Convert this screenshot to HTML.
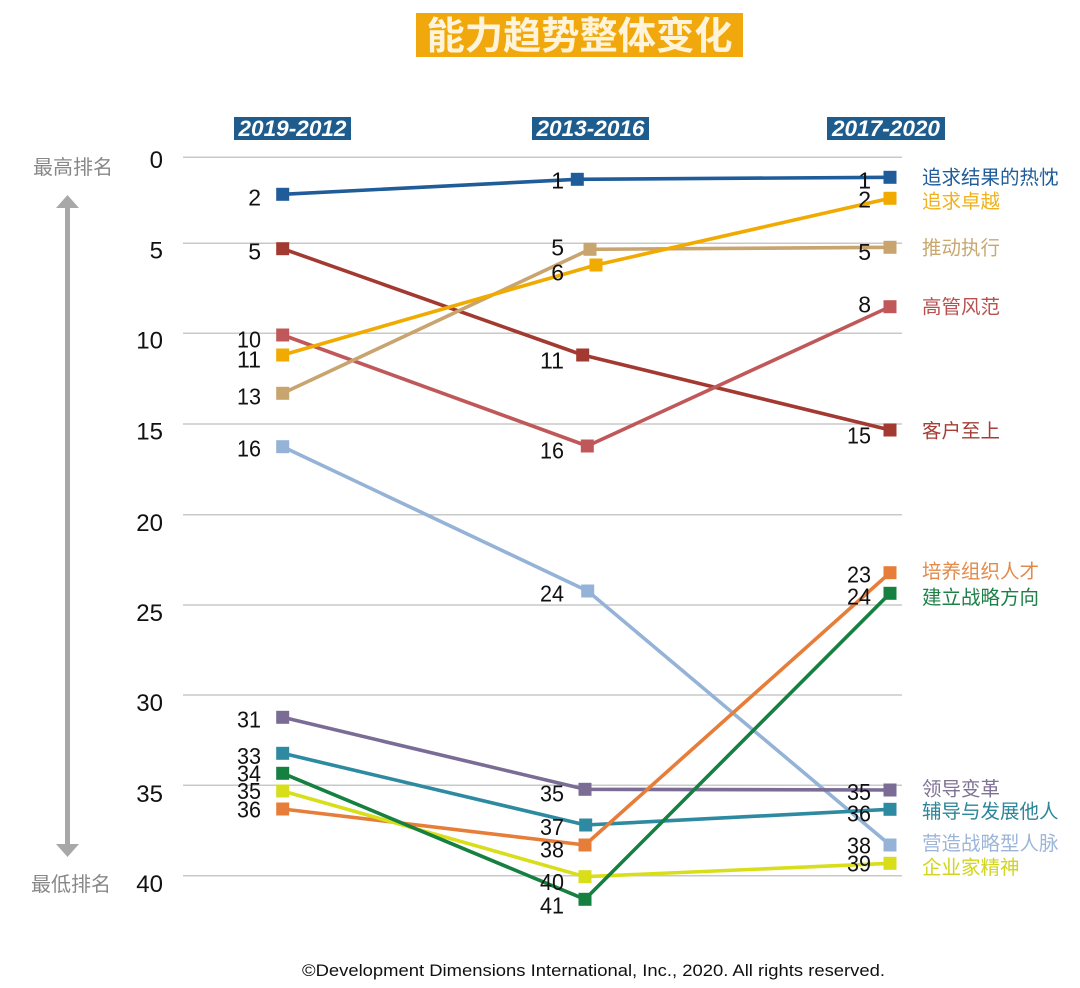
<!DOCTYPE html>
<html>
<head>
<meta charset="utf-8">
<style>
  html,body{margin:0;padding:0;background:#ffffff;}
  svg{display:block;}
  .cjk{font-family:"Liberation Sans","Noto Sans CJK SC",sans-serif;}
  .num{font-family:"Liberation Sans","DejaVu Sans",sans-serif;}
</style>
</head>
<body>
<svg width="1080" height="988" viewBox="0 0 1080 988" xmlns="http://www.w3.org/2000/svg">
  <rect width="1080" height="988" fill="#ffffff"/>

  <!-- Title -->
  <rect x="416" y="13" width="327" height="44" fill="#F1A80C"/>
  <text x="579.5" y="49" text-anchor="middle" class="cjk" font-size="38" font-weight="bold" fill="#FFF4DA" textLength="306" lengthAdjust="spacingAndGlyphs">能力趋势整体变化</text>

  <!-- Column headers -->
  <g class="num" font-size="22" font-weight="bold" font-style="italic" fill="#ffffff">
    <rect x="234" y="117" width="117" height="23" fill="#1F5C8E"/>
    <text x="292.5" y="136" text-anchor="middle" textLength="108" lengthAdjust="spacingAndGlyphs">2019-2012</text>
    <rect x="532" y="117" width="117" height="23" fill="#1F5C8E"/>
    <text x="590.5" y="136" text-anchor="middle" textLength="108" lengthAdjust="spacingAndGlyphs">2013-2016</text>
    <rect x="827" y="117" width="118" height="23" fill="#1F5C8E"/>
    <text x="886" y="136" text-anchor="middle" textLength="108" lengthAdjust="spacingAndGlyphs">2017-2020</text>
  </g>

  <!-- Gridlines -->
  <g stroke="#C9C9C9" stroke-width="1.5">
    <line x1="183" y1="157.3" x2="902" y2="157.3"/>
    <line x1="183" y1="243.3" x2="902" y2="243.3"/>
    <line x1="183" y1="333.3" x2="902" y2="333.3"/>
    <line x1="183" y1="424" x2="902" y2="424"/>
    <line x1="183" y1="514.7" x2="902" y2="514.7"/>
    <line x1="183" y1="605" x2="902" y2="605"/>
    <line x1="183" y1="695" x2="902" y2="695"/>
    <line x1="183" y1="785.3" x2="902" y2="785.3"/>
    <line x1="183" y1="875.7" x2="902" y2="875.7"/>
  </g>

  <!-- Tick labels -->
  <g class="num" font-size="24" fill="#111" text-anchor="end">
    <text x="163" y="167.8">0</text>
    <text x="163" y="258.5">5</text>
    <text x="163" y="348.5">10</text>
    <text x="163" y="439.5">15</text>
    <text x="163" y="531.2">20</text>
    <text x="163" y="621.2">25</text>
    <text x="163" y="711.2">30</text>
    <text x="163" y="801.8">35</text>
    <text x="163" y="891.8">40</text>
  </g>

  <!-- Left arrow -->
  <g fill="#A8A8A8">
    <rect x="65" y="205" width="5" height="642"/>
    <polygon points="67.5,195 56,208 79,208"/>
    <polygon points="67.5,857 56,844 79,844"/>
  </g>
  <text x="73" y="174" text-anchor="middle" class="cjk" font-size="20" fill="#888888">最高排名</text>
  <text x="71" y="891" text-anchor="middle" class="cjk" font-size="20" fill="#888888">最低排名</text>

  <!-- Series lines -->
  <g fill="none" stroke-width="3.6" stroke-linejoin="round">
    <polyline stroke="#95B3D7" points="282.7,446.7 587.7,591 890,845"/>
    <polyline stroke="#A33A32" points="282.7,248.7 582.7,355 890,430"/>
    <polyline stroke="#C0585A" points="282.7,335 587.3,446 890,306.7"/>
    <polyline stroke="#C8A46E" points="282.7,393.3 590,249.3 890,247.3"/>
    <polyline stroke="#F0AA00" points="282.7,355 596,265 890,198.3"/>
    <polyline stroke="#1F5C99" points="282.7,194.3 577.3,179.3 890,177.3"/>
    <polyline stroke="#7B6C96" points="282.7,717.3 585,789.3 890,790"/>
    <polyline stroke="#2E8AA0" points="282.7,753.3 585.7,825 890,809.3"/>
    <polyline stroke="#E67E3A" points="282.7,809 585,845 890,572.7"/>
    <polyline stroke="#D8DE1A" points="282.7,791 585,876.7 890,863.3"/>
    <polyline stroke="#168040" points="282.7,773.3 585,899.3 890,593.3"/>
  </g>

  <!-- Markers -->
  <g>
    <g fill="#95B3D7"><rect x="276.2" y="440.2" width="13" height="13"/><rect x="581.2" y="584.5" width="13" height="13"/><rect x="883.5" y="838.5" width="13" height="13"/></g>
    <g fill="#A33A32"><rect x="276.2" y="242.2" width="13" height="13"/><rect x="576.2" y="348.5" width="13" height="13"/><rect x="883.5" y="423.5" width="13" height="13"/></g>
    <g fill="#C0585A"><rect x="276.2" y="328.5" width="13" height="13"/><rect x="580.8" y="439.5" width="13" height="13"/><rect x="883.5" y="300.2" width="13" height="13"/></g>
    <g fill="#C8A46E"><rect x="276.2" y="386.8" width="13" height="13"/><rect x="583.5" y="242.8" width="13" height="13"/><rect x="883.5" y="240.8" width="13" height="13"/></g>
    <g fill="#F0AA00"><rect x="276.2" y="348.5" width="13" height="13"/><rect x="589.5" y="258.5" width="13" height="13"/><rect x="883.5" y="191.8" width="13" height="13"/></g>
    <g fill="#1F5C99"><rect x="276.2" y="187.8" width="13" height="13"/><rect x="570.8" y="172.8" width="13" height="13"/><rect x="883.5" y="170.8" width="13" height="13"/></g>
    <g fill="#7B6C96"><rect x="276.2" y="710.8" width="13" height="13"/><rect x="578.5" y="782.8" width="13" height="13"/><rect x="883.5" y="783.5" width="13" height="13"/></g>
    <g fill="#2E8AA0"><rect x="276.2" y="746.8" width="13" height="13"/><rect x="579.2" y="818.5" width="13" height="13"/><rect x="883.5" y="802.8" width="13" height="13"/></g>
    <g fill="#E67E3A"><rect x="276.2" y="802.5" width="13" height="13"/><rect x="578.5" y="838.5" width="13" height="13"/><rect x="883.5" y="566.2" width="13" height="13"/></g>
    <g fill="#D8DE1A"><rect x="276.2" y="784.5" width="13" height="13"/><rect x="578.5" y="870.2" width="13" height="13"/><rect x="883.5" y="856.8" width="13" height="13"/></g>
    <g fill="#168040"><rect x="276.2" y="766.8" width="13" height="13"/><rect x="578.5" y="892.8" width="13" height="13"/><rect x="883.5" y="586.8" width="13" height="13"/></g>
  </g>

  <!-- Data labels -->
  <g class="num" font-size="23" fill="#111" text-anchor="end">
    <!-- col 1 -->
    <text x="261" y="205.5">2</text>
    <text x="261" y="259.5">5</text>
    <text x="261" y="347.5" textLength="24" lengthAdjust="spacingAndGlyphs">10</text>
    <text x="261" y="367.5" textLength="24" lengthAdjust="spacingAndGlyphs">11</text>
    <text x="261" y="404.5" textLength="24" lengthAdjust="spacingAndGlyphs">13</text>
    <text x="261" y="456.5" textLength="24" lengthAdjust="spacingAndGlyphs">16</text>
    <text x="261" y="727.5" textLength="24" lengthAdjust="spacingAndGlyphs">31</text>
    <text x="261" y="764" textLength="24" lengthAdjust="spacingAndGlyphs">33</text>
    <text x="261" y="781.5" textLength="24" lengthAdjust="spacingAndGlyphs">34</text>
    <text x="261" y="799" textLength="24" lengthAdjust="spacingAndGlyphs">35</text>
    <text x="261" y="817.5" textLength="24" lengthAdjust="spacingAndGlyphs">36</text>
    <!-- col 2 -->
    <text x="564" y="188.5">1</text>
    <text x="564" y="255.5">5</text>
    <text x="564" y="280.5">6</text>
    <text x="564" y="368.5" textLength="24" lengthAdjust="spacingAndGlyphs">11</text>
    <text x="564" y="458.5" textLength="24" lengthAdjust="spacingAndGlyphs">16</text>
    <text x="564" y="601.5" textLength="24" lengthAdjust="spacingAndGlyphs">24</text>
    <text x="564" y="801.5" textLength="24" lengthAdjust="spacingAndGlyphs">35</text>
    <text x="564" y="835" textLength="24" lengthAdjust="spacingAndGlyphs">37</text>
    <text x="564" y="857.5" textLength="24" lengthAdjust="spacingAndGlyphs">38</text>
    <text x="564" y="890" textLength="24" lengthAdjust="spacingAndGlyphs">40</text>
    <text x="564" y="913.5" textLength="24" lengthAdjust="spacingAndGlyphs">41</text>
    <!-- col 3 -->
    <text x="871" y="188.5">1</text>
    <text x="871" y="207.5">2</text>
    <text x="871" y="260">5</text>
    <text x="871" y="312.5">8</text>
    <text x="871" y="443.5" textLength="24" lengthAdjust="spacingAndGlyphs">15</text>
    <text x="871" y="582.5" textLength="24" lengthAdjust="spacingAndGlyphs">23</text>
    <text x="871" y="604.5" textLength="24" lengthAdjust="spacingAndGlyphs">24</text>
    <text x="871" y="800" textLength="24" lengthAdjust="spacingAndGlyphs">35</text>
    <text x="871" y="821.5" textLength="24" lengthAdjust="spacingAndGlyphs">36</text>
    <text x="871" y="853.5" textLength="24" lengthAdjust="spacingAndGlyphs">38</text>
    <text x="871" y="871.5" textLength="24" lengthAdjust="spacingAndGlyphs">39</text>
  </g>

  <!-- Legend -->
  <g class="cjk" font-size="19.5">
    <text x="922" y="184" fill="#1F5C99">追求结果的热忱</text>
    <text x="922" y="208" fill="#EFB21C">追求卓越</text>
    <text x="922" y="254.5" fill="#C8A870">推动执行</text>
    <text x="922" y="313.5" fill="#B9504F">高管风范</text>
    <text x="922" y="437.5" fill="#A63D36">客户至上</text>
    <text x="922" y="578" fill="#E38A4A">培养组织人才</text>
    <text x="922" y="604" fill="#1E8048">建立战略方向</text>
    <text x="922" y="795.5" fill="#7F7295">领导变革</text>
    <text x="922" y="818" fill="#2C8598">辅导与发展他人</text>
    <text x="922" y="850" fill="#9DB6D8">营造战略型人脉</text>
    <text x="922" y="874" fill="#D2D51E">企业家精神</text>
  </g>

  <!-- Footer -->
  <text x="302" y="976" class="num" font-size="16.5" fill="#111" textLength="583" lengthAdjust="spacingAndGlyphs">©Development Dimensions International, Inc., 2020. All rights reserved.</text>
</svg>
</body>
</html>
